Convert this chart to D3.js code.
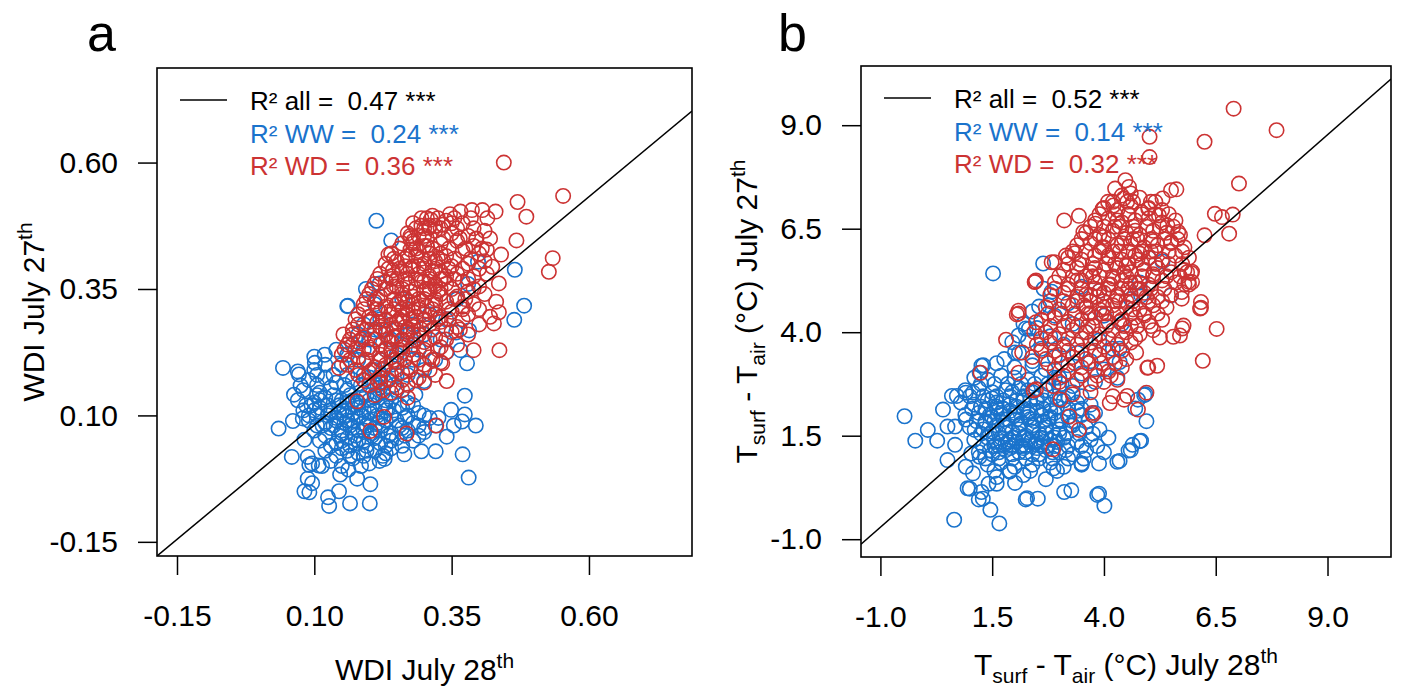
<!DOCTYPE html>
<html>
<head>
<meta charset="utf-8">
<script src="https://cdn.jsdelivr.net/npm/d3@7"></script>
<style>
html,body{margin:0;padding:0;background:#fff;}
svg{display:block;}
text{font-family:"Liberation Sans",Arial,sans-serif;}
</style>
</head>
<body>
<svg id="chart" width="1401" height="690"></svg>
<script>
// ---------- DATA ----------
const ticksA = [-0.15, 0.10, 0.35, 0.60];
const ticksB = [-1.0, 1.5, 4.0, 6.5, 9.0];
const legendA = ["R² all =  0.47 ***", "R² WW =  0.24 ***", "R² WD =  0.36 ***"];
const legendB = ["R² all =  0.52 ***", "R² WW =  0.14 ***", "R² WD =  0.32 ***"];
const fitA = [-0.0096, 0.9035];   // intercept, slope
const fitB = [0.236, 0.948];

// Panel a, WW (blue): [WDI July 28, WDI July 27]
const wwA = [
[0.213,0.485],[0.240,0.446],[0.398,0.404],[0.465,0.388],[0.482,0.317],[0.464,0.289],[0.161,0.317],[0.194,0.350],[0.219,0.361],
[0.043,0.194],[0.070,0.187],[0.100,0.216],[0.119,0.220],[0.035,0.074],[0.061,0.089],[0.063,0.141],[0.075,0.159],[0.059,0.018],
[0.088,0.018],[0.096,0.005],[0.108,0.001],[0.088,-0.025],[0.096,-0.034],[0.082,-0.050],[0.125,-0.062],[0.145,-0.050],[0.165,-0.074],
[0.178,-0.025],[0.202,-0.036],[0.201,-0.074],[0.147,-0.017],[0.219,0.010],[0.228,0.014],[0.264,0.023],[0.295,0.029],[0.321,0.029],
[0.370,0.023],[0.381,-0.023],[0.394,0.080],[0.374,0.139],[0.349,0.111],[0.354,0.080],[0.341,0.058],[0.374,0.102],[0.321,0.080],
[0.300,0.067],[0.378,0.203],[0.366,0.229],[0.358,0.264],[0.382,0.268],[0.341,0.225],[0.300,0.168],[0.284,0.141],
[0.079,0.094],[0.082,0.052],[0.091,0.002],[0.114,0.000],[0.091,-0.052],[0.127,-0.079],[0.162,-0.007],[0.369,0.088],[0.326,0.095],
[0.072,0.181],[0.101,0.204],[0.160,0.316],
[0.09,0.17],[0.12,0.175],[0.14,0.165],[0.17,0.17],[0.20,0.175],[0.23,0.165],
[0.08,0.15],[0.11,0.145],[0.13,0.155],[0.16,0.15],[0.19,0.145],[0.22,0.155],[0.25,0.15],
[0.07,0.13],[0.10,0.125],[0.12,0.135],[0.15,0.13],[0.18,0.125],[0.21,0.135],[0.24,0.13],[0.27,0.125],
[0.08,0.11],[0.11,0.115],[0.13,0.105],[0.16,0.11],[0.18,0.115],[0.20,0.105],[0.23,0.11],[0.26,0.115],[0.29,0.105],
[0.09,0.09],[0.12,0.085],[0.14,0.095],[0.17,0.09],[0.19,0.085],[0.22,0.095],[0.25,0.09],[0.28,0.085],[0.31,0.095],
[0.10,0.07],[0.13,0.075],[0.15,0.065],[0.18,0.07],[0.21,0.075],[0.24,0.065],[0.27,0.07],[0.30,0.075],
[0.11,0.05],[0.14,0.045],[0.16,0.055],[0.19,0.05],[0.22,0.045],[0.25,0.055],[0.28,0.05],
[0.12,0.03],[0.15,0.035],[0.18,0.025],[0.21,0.03],[0.24,0.035],
[0.13,0.01],[0.17,0.015],[0.20,0.005],
[0.135,0.14],[0.165,0.14],[0.195,0.14],[0.215,0.14],[0.125,0.12],[0.145,0.12],[0.175,0.12],[0.205,0.12],[0.225,0.12],
[0.125,0.10],[0.155,0.10],[0.185,0.10],[0.215,0.10],[0.24,0.10],[0.135,0.08],[0.165,0.08],[0.195,0.08],[0.225,0.08],
[0.145,0.06],[0.175,0.06],[0.205,0.06],[0.235,0.06],
[0.15,0.20],[0.18,0.21],[0.21,0.19],[0.24,0.20],[0.27,0.18],[0.30,0.19],[0.32,0.21],[0.17,0.24],[0.20,0.25],[0.23,0.23],
[0.26,0.24],[0.29,0.23],[0.33,0.25],[0.19,0.28],[0.22,0.29],[0.25,0.27],[0.28,0.28],[0.31,0.30],[0.34,0.29],[0.21,0.32],
[0.26,0.33],[0.36,0.33],[0.38,0.36],[0.14,0.23],[0.12,0.20],[0.10,0.19],
[0.105,0.16],[0.155,0.16],[0.185,0.16],[0.215,0.16],[0.245,0.16],[0.085,0.12],[0.095,0.12],[0.255,0.12],[0.28,0.12],
[0.09,0.10],[0.105,0.10],[0.27,0.10],[0.30,0.10],[0.105,0.08],[0.115,0.08],[0.255,0.08],[0.29,0.08],[0.12,0.06],[0.265,0.06],
[0.29,0.06],[0.13,0.04],[0.165,0.04],[0.195,0.04],[0.23,0.04],[0.26,0.04],[0.14,0.02],[0.165,0.02],[0.19,0.02],[0.225,0.02],
[0.15,0.00],[0.185,0.00],[0.105,0.18],[0.135,0.18],[0.16,0.18],[0.19,0.18],[0.22,0.18],[0.25,0.18],
[0.16,0.22],[0.19,0.23],[0.22,0.21],[0.25,0.22],[0.28,0.21],[0.18,0.26],[0.21,0.27],[0.24,0.25],[0.27,0.26],[0.30,0.26],
[0.14,0.13],[0.17,0.13],[0.20,0.13],[0.23,0.13],[0.13,0.11],[0.15,0.11],[0.17,0.105],[0.19,0.11],[0.21,0.11],[0.245,0.11],
[0.14,0.09],[0.16,0.09],[0.18,0.095],[0.20,0.09],[0.23,0.09],[0.15,0.07],[0.17,0.075],[0.19,0.07],[0.22,0.07],[0.26,0.075],
[0.15,0.05],[0.18,0.05],[0.21,0.055],[0.24,0.05],[0.16,0.03],[0.195,0.03],[0.23,0.025],[0.11,0.13],[0.10,0.11],[0.105,0.14],
[0.16,0.125],[0.185,0.135],[0.225,0.145],[0.155,0.085],[0.215,0.085],[0.175,0.045],[0.205,0.065],[0.145,0.105],[0.235,0.115],[0.265,0.095]
];

// Panel a, WD (red)
const wdA = [
[0.445,0.600],[0.553,0.534],[0.470,0.522],[0.486,0.493],[0.468,0.446],[0.534,0.411],[0.527,0.384],[0.430,0.503],[0.406,0.506],
[0.387,0.506],[0.366,0.503],[0.347,0.498],[0.312,0.487],[0.309,0.471],[0.235,0.418],[0.275,0.428],[0.334,0.477],[0.395,0.449],
[0.414,0.428],[0.440,0.418],[0.424,0.394],[0.414,0.380],[0.436,0.361],[0.431,0.325],[0.436,0.304],[0.427,0.282],[0.437,0.229],
[0.390,0.229],[0.243,0.387],[0.153,0.260],[0.145,0.194],[0.178,0.128],[0.227,0.097],[0.202,0.069],[0.268,0.064],[0.322,0.080],
[0.341,0.168],[0.333,0.203],
[0.28,0.48],[0.31,0.475],[0.34,0.485],[0.37,0.48],
[0.27,0.46],[0.29,0.455],[0.32,0.465],[0.35,0.46],[0.38,0.455],[0.41,0.465],
[0.26,0.44],[0.28,0.445],[0.30,0.435],[0.33,0.44],[0.36,0.445],[0.39,0.435],
[0.24,0.42],[0.27,0.415],[0.29,0.425],[0.31,0.42],[0.34,0.415],[0.37,0.425],[0.40,0.42],
[0.23,0.40],[0.25,0.405],[0.28,0.395],[0.30,0.40],[0.32,0.405],[0.35,0.395],[0.38,0.40],[0.41,0.405],
[0.22,0.38],[0.24,0.375],[0.26,0.385],[0.29,0.38],[0.31,0.375],[0.33,0.385],[0.36,0.38],[0.39,0.375],
[0.21,0.36],[0.23,0.365],[0.25,0.355],[0.27,0.36],[0.30,0.365],[0.32,0.355],[0.34,0.36],[0.37,0.365],[0.40,0.355],
[0.20,0.34],[0.22,0.335],[0.24,0.345],[0.26,0.34],[0.28,0.335],[0.31,0.345],[0.33,0.34],[0.36,0.335],[0.38,0.345],[0.41,0.34],
[0.19,0.32],[0.21,0.325],[0.23,0.315],[0.25,0.32],[0.27,0.325],[0.29,0.315],[0.32,0.32],[0.34,0.325],[0.37,0.315],[0.39,0.32],
[0.18,0.30],[0.20,0.295],[0.22,0.305],[0.24,0.30],[0.26,0.295],[0.28,0.305],[0.30,0.30],[0.33,0.295],[0.35,0.305],[0.38,0.30],[0.42,0.295],
[0.18,0.28],[0.20,0.285],[0.22,0.275],[0.24,0.28],[0.26,0.285],[0.28,0.275],[0.31,0.28],[0.33,0.285],[0.36,0.275],[0.40,0.28],
[0.17,0.26],[0.19,0.255],[0.21,0.265],[0.23,0.26],[0.25,0.255],[0.27,0.265],[0.29,0.26],[0.32,0.255],[0.35,0.265],[0.38,0.26],
[0.16,0.24],[0.18,0.245],[0.20,0.235],[0.22,0.24],[0.24,0.245],[0.26,0.235],[0.28,0.24],[0.30,0.245],[0.33,0.235],[0.36,0.24],
[0.15,0.22],[0.18,0.215],[0.20,0.225],[0.22,0.22],[0.24,0.215],[0.26,0.225],[0.28,0.22],[0.31,0.215],[0.34,0.225],
[0.16,0.20],[0.19,0.205],[0.21,0.195],[0.23,0.20],[0.25,0.205],[0.27,0.195],[0.30,0.20],[0.33,0.205],
[0.18,0.18],[0.20,0.185],[0.22,0.175],[0.24,0.18],[0.26,0.185],[0.29,0.175],[0.32,0.18],
[0.20,0.16],[0.22,0.165],[0.25,0.155],[0.27,0.16],[0.30,0.165],
[0.21,0.14],[0.24,0.145],[0.27,0.135],
[0.245,0.255],[0.265,0.275],[0.285,0.295],[0.305,0.315],[0.255,0.325],[0.275,0.345],[0.295,0.365],[0.315,0.385],[0.235,0.305],
[0.265,0.395],[0.285,0.415],[0.305,0.435],[0.325,0.345],[0.335,0.405],[0.215,0.285],[0.245,0.355],[0.275,0.455],[0.295,0.475],
[0.315,0.495],[0.305,0.49],
[0.295,0.49],[0.325,0.49],[0.355,0.49],[0.385,0.49],[0.415,0.49],
[0.285,0.47],[0.30,0.47],[0.33,0.47],[0.36,0.47],[0.39,0.47],
[0.275,0.45],[0.305,0.45],[0.335,0.45],[0.365,0.45],[0.395,0.45],[0.42,0.45],
[0.255,0.43],[0.285,0.43],[0.315,0.43],[0.345,0.43],[0.375,0.43],[0.405,0.43],
[0.245,0.41],[0.265,0.41],[0.295,0.41],[0.325,0.41],[0.355,0.41],[0.385,0.41],
[0.235,0.39],[0.255,0.39],[0.275,0.39],[0.30,0.39],[0.32,0.39],[0.345,0.39],[0.37,0.39],[0.40,0.39],
[0.215,0.37],[0.24,0.37],[0.265,0.37],[0.285,0.37],[0.31,0.37],[0.335,0.37],[0.355,0.37],[0.38,0.37],
[0.205,0.35],[0.23,0.35],[0.26,0.35],[0.285,0.35],[0.305,0.35],[0.33,0.35],[0.35,0.35],[0.39,0.35],
[0.195,0.33],[0.215,0.33],[0.245,0.33],[0.265,0.33],[0.30,0.33],[0.32,0.33],[0.355,0.33],[0.375,0.33],
[0.19,0.31],[0.215,0.31],[0.245,0.31],[0.27,0.31],[0.29,0.31],[0.315,0.31],[0.345,0.31],[0.37,0.31],[0.40,0.31],
[0.175,0.29],[0.205,0.29],[0.23,0.29],[0.255,0.29],[0.275,0.29],[0.30,0.29],[0.325,0.29],[0.345,0.29],[0.37,0.29],
[0.17,0.27],[0.195,0.27],[0.225,0.27],[0.245,0.27],[0.27,0.27],[0.295,0.27],[0.315,0.27],[0.34,0.27],[0.365,0.27],
[0.165,0.25],[0.185,0.25],[0.21,0.25],[0.235,0.25],[0.26,0.25],[0.285,0.25],[0.31,0.25],[0.34,0.25],
[0.155,0.23],[0.175,0.23],[0.205,0.23],[0.23,0.23],[0.255,0.23],[0.275,0.23],[0.30,0.23],[0.325,0.23],
[0.165,0.21],[0.195,0.21],[0.22,0.21],[0.245,0.21],[0.265,0.21],[0.29,0.21],[0.315,0.21],
[0.175,0.19],[0.205,0.19],[0.225,0.19],[0.25,0.19],[0.275,0.19],[0.31,0.19],
[0.19,0.17],[0.215,0.17],[0.235,0.17],[0.26,0.17],[0.285,0.17],
[0.225,0.15],[0.26,0.15],
[0.25,0.37],[0.27,0.38],[0.29,0.395],[0.31,0.41],[0.33,0.42],[0.26,0.31],[0.28,0.32],[0.30,0.345],[0.32,0.36],[0.34,0.375],
[0.23,0.27],[0.25,0.285],[0.27,0.30],[0.29,0.33],[0.31,0.35],[0.33,0.37],[0.28,0.44],[0.30,0.455],[0.32,0.475],[0.35,0.48],
[0.24,0.23],[0.26,0.25],[0.28,0.26],[0.30,0.28],[0.32,0.30]
];

// Panel b, WW (blue): [Tsurf-Tair July 28, Tsurf-Tair July 27]
const wwB = [
[1.52,5.42],[2.64,5.66],[-0.46,1.97],[-0.22,1.38],[0.06,1.64],[0.27,1.38],[0.40,2.13],[0.50,1.72],[0.50,0.91],[0.67,1.28],
[0.71,2.46],[0.91,2.54],[1.07,2.54],[0.60,2.46],[1.00,0.22],[1.26,0.14],[1.29,-0.02],[1.46,-0.29],[1.42,0.34],[1.60,0.34],
[1.89,0.63],[2.01,0.36],[2.28,-0.01],[2.52,-0.02],[2.87,0.71],[3.11,0.14],[3.27,0.18],[3.89,0.10],[4.01,-0.19],[3.50,0.83],
[3.89,0.83],[4.35,0.89],[4.60,1.15],[4.83,1.38],[4.64,1.28],[4.95,1.85],[4.93,2.50],[4.76,2.37],[1.26,3.19],[1.22,3.02],
[2.83,4.98],[2.76,4.65],[2.09,3.92],[2.01,3.51],[1.77,3.35],[2.32,4.08],[5.31,5.71],[5.50,4.89],[4.83,4.89],[0.65,-0.53],
[1.66,-0.62],[0.67,1.72],[0.91,1.89],[1.11,1.64],[1.03,1.07],[0.91,0.75],[1.07,0.59],[1.22,0.99],[4.35,3.28],[4.35,3.60],
[0.95,0.23],[1.20,-0.04],[2.25,-0.04],[3.85,0.07],[3.50,0.82],[4.30,0.87],[4.55,1.14],[4.80,1.37],[4.90,2.48],[4.70,2.16],
[1.95,3.76],[2.25,4.09],[2.55,4.62],[2.65,5.05],
[1.3,3.2],[1.6,3.25],[2.0,3.15],[2.4,3.2],
[1.1,2.9],[1.4,2.85],[1.7,2.95],[2.0,2.9],[2.3,2.85],[2.6,2.95],[2.9,2.9],
[0.9,2.6],[1.2,2.65],[1.5,2.55],[1.8,2.6],[2.1,2.65],[2.4,2.55],[2.7,2.6],[3.0,2.65],[3.3,2.55],
[0.8,2.3],[1.1,2.25],[1.4,2.35],[1.6,2.3],[1.9,2.25],[2.2,2.35],[2.5,2.3],[2.8,2.25],[3.1,2.35],[3.4,2.3],[3.7,2.25],
[0.9,2.0],[1.2,2.05],[1.5,1.95],[1.7,2.0],[2.0,2.05],[2.3,1.95],[2.6,2.0],[2.9,2.05],[3.2,1.95],[3.5,2.0],[3.8,2.05],
[1.0,1.7],[1.3,1.65],[1.6,1.75],[1.8,1.7],[2.1,1.65],[2.4,1.75],[2.7,1.7],[3.0,1.65],[3.3,1.75],[3.6,1.7],[3.9,1.65],
[1.1,1.4],[1.4,1.45],[1.7,1.35],[1.9,1.4],[2.2,1.45],[2.5,1.35],[2.8,1.4],[3.1,1.45],[3.4,1.35],[3.7,1.4],[4.1,1.45],
[1.2,1.1],[1.5,1.05],[1.8,1.15],[2.1,1.1],[2.4,1.05],[2.7,1.15],[3.0,1.1],[3.3,1.05],[3.6,1.15],[4.0,1.1],
[1.4,0.8],[1.7,0.85],[2.0,0.75],[2.4,0.8],[2.8,0.85],[3.1,0.75],[3.5,0.8],
[1.6,0.5],[2.2,0.55],[2.7,0.45],
[1.55,1.25],[1.85,1.35],[2.15,1.25],[2.45,1.3],[2.75,1.25],[1.65,1.55],[1.95,1.6],[2.25,1.5],[2.55,1.55],[2.85,1.6],
[1.55,1.85],[1.85,1.9],[2.15,1.8],[2.45,1.85],[2.75,1.9],[1.75,2.15],[2.05,2.2],[2.35,2.1],[2.65,2.15],[2.95,2.2],
[2.2,2.45],[2.5,2.4],[1.9,2.45],
[2.1,3.5],[2.4,3.3],[2.7,3.1],[3.0,2.9],[3.3,2.7],[2.3,3.8],[2.6,3.6],[2.9,3.4],[3.2,3.2],[3.5,3.0],[3.8,2.8],[2.5,4.1],
[2.8,3.9],[3.1,3.7],[3.4,3.5],[3.7,3.3],[4.0,3.1],[4.3,2.9],[2.9,4.4],[3.3,4.2],[3.6,4.0],[3.9,3.8],[4.2,3.6],[3.2,4.7],
[3.6,4.6],[4.0,4.4],[4.4,4.2],[3.5,5.1],[3.9,5.0],[4.6,4.8],[4.8,5.2],[5.0,5.8],[2.4,4.5],[2.2,4.2],
[1.25,2.75],[1.55,2.75],[1.85,2.75],[2.15,2.75],[2.45,2.75],[2.75,2.75],[3.05,2.75],
[1.0,2.45],[1.3,2.45],[1.6,2.45],[2.9,2.45],[3.2,2.45],[3.5,2.45],
[1.05,2.15],[1.35,2.15],[1.6,2.15],[3.2,2.15],[3.5,2.15],
[1.15,1.85],[1.35,1.85],[3.05,1.85],[3.35,1.85],[3.65,1.85],
[1.25,1.55],[1.45,1.55],[3.15,1.55],[3.45,1.55],[3.75,1.55],
[1.3,1.25],[1.65,1.25],[1.95,1.25],[2.25,1.25],[2.6,1.25],[2.9,1.25],[3.2,1.25],[3.5,1.25],[3.85,1.25],
[1.35,0.95],[1.65,0.95],[1.95,0.95],[2.25,0.95],[2.55,0.95],[2.85,0.95],[3.2,0.95],[3.55,0.95],
[1.55,0.65],[1.9,0.65],[2.35,0.65],[2.95,0.65],
[1.7,1.45],[2.0,1.45],[2.3,1.4],[2.6,1.45],[1.8,1.75],[2.1,1.75],[2.4,1.7],[2.7,1.75],[1.7,2.05],[2.0,2.0],
[2.3,2.05],[2.6,2.0],[2.2,1.2],[2.5,1.2],[1.9,1.2],[2.8,1.95],[2.9,1.45],
[1.45,2.0],[1.75,1.9],[2.05,1.9],[2.35,1.9],[2.65,1.85],[2.95,1.85],[1.5,1.6],[1.8,1.55],[2.1,1.55],[2.4,1.6],[2.7,1.55],[3.0,1.55],
[1.55,1.35],[1.8,1.3],[2.05,1.35],[2.35,1.35],[2.65,1.35],[2.95,1.35],[1.65,1.1],[1.95,1.05],[2.25,1.1],[2.55,1.05],[2.85,1.1],
[1.6,2.2],[1.9,2.1],[2.2,2.15],[2.5,2.1],[2.8,2.1],[1.75,2.35],[2.05,2.35],[2.35,2.35],[2.65,2.35],[3.0,2.4],
[1.35,1.8],[1.25,2.2],[1.45,1.15],[3.15,1.15],[3.25,1.75],[3.4,2.1],[1.5,2.4],[1.95,2.55],[2.3,2.6],[2.6,2.5]
];

// Panel b, WD (red)
const wdB = [
[6.90,9.40],[7.86,8.88],[6.25,8.60],[5.02,8.72],[5.02,8.23],[7.02,7.59],[5.62,7.45],[5.50,7.43],[4.48,7.67],[4.56,7.51],
[4.60,7.35],[4.52,7.15],[5.31,7.23],[5.15,7.15],[4.09,7.15],[3.97,6.98],[4.21,7.06],[3.11,6.70],[3.44,6.81],[3.54,6.42],
[3.81,6.62],[4.84,6.90],[4.99,6.98],[5.42,6.58],[5.66,6.42],[5.50,6.18],[6.48,6.86],[6.64,6.78],[6.88,6.84],[6.25,6.34],
[6.80,6.38],[2.83,5.69],[2.48,5.25],[2.09,4.52],[4.25,7.47],[4.44,7.23],[5.23,6.82],[5.86,5.45],[5.97,5.21],[5.74,4.97],
[6.17,4.73],[2.09,4.45],[2.46,5.22],[1.81,3.82],[1.24,3.02],[2.48,4.24],[2.44,4.00],[2.17,3.51],[2.09,3.02],[2.48,2.62],
[2.86,1.17],[3.23,1.97],[3.44,1.64],[3.74,2.05],[4.13,2.29],[4.52,2.46],[4.76,2.13],[4.95,2.54],[3.03,2.37],[2.87,2.70],
[6.17,4.59],[6.52,4.08],[6.21,3.31],[5.97,5.46],[5.89,5.22],[5.74,4.81],[5.78,4.16],[5.70,3.92],[5.19,3.19],[4.99,3.15],
[4.72,3.51],[5.95,5.43],[5.80,5.16],[6.15,4.57],[5.75,4.09],[5.55,3.89],[5.25,3.87],[4.97,3.14],[4.45,2.37],[3.75,2.00],
[2.43,2.59],[2.05,4.43],[2.45,5.21],[2.90,5.69],[3.15,5.85],[3.35,5.91],
[4.4,7.3],[4.8,7.25],
[4.0,7.0],[4.3,6.95],[4.6,7.05],[5.0,7.0],[5.3,6.95],
[3.8,6.7],[4.1,6.75],[4.4,6.65],[4.7,6.7],[5.0,6.75],[5.3,6.65],[5.6,6.7],
[3.6,6.4],[3.9,6.35],[4.2,6.45],[4.5,6.4],[4.8,6.35],[5.1,6.45],[5.4,6.4],[5.7,6.35],
[3.4,6.1],[3.7,6.15],[4.0,6.05],[4.3,6.1],[4.6,6.15],[4.9,6.05],[5.2,6.1],[5.5,6.15],[5.8,6.05],
[3.2,5.8],[3.5,5.75],[3.8,5.85],[4.1,5.8],[4.4,5.75],[4.7,5.85],[5.0,5.8],[5.3,5.75],[5.6,5.85],[5.9,5.8],
[3.1,5.5],[3.4,5.55],[3.7,5.45],[4.0,5.5],[4.3,5.55],[4.6,5.45],[4.9,5.5],[5.2,5.55],[5.5,5.45],[5.8,5.5],
[2.9,5.2],[3.2,5.15],[3.5,5.25],[3.8,5.2],[4.1,5.15],[4.4,5.25],[4.7,5.2],[5.0,5.15],[5.3,5.25],[5.6,5.2],[5.9,5.15],
[2.8,4.9],[3.1,4.95],[3.4,4.85],[3.7,4.9],[4.0,4.95],[4.3,4.85],[4.6,4.9],[4.9,4.95],[5.2,4.85],[5.5,4.9],
[2.7,4.6],[3.0,4.55],[3.3,4.65],[3.6,4.6],[3.9,4.55],[4.2,4.65],[4.5,4.6],[4.8,4.55],[5.1,4.65],[5.4,4.6],
[2.6,4.3],[2.9,4.35],[3.2,4.25],[3.5,4.3],[3.8,4.35],[4.1,4.25],[4.4,4.3],[4.7,4.35],[5.0,4.25],[5.3,4.3],
[2.7,4.0],[3.0,3.95],[3.3,4.05],[3.6,4.0],[3.9,3.95],[4.2,4.05],[4.5,4.0],[4.8,3.95],[5.1,4.05],
[2.5,3.7],[2.8,3.75],[3.1,3.65],[3.4,3.7],[3.7,3.75],[4.0,3.65],[4.3,3.7],[4.6,3.75],
[2.4,3.4],[2.7,3.35],[3.0,3.45],[3.3,3.4],[3.6,3.35],[3.9,3.45],[4.2,3.4],[4.5,3.35],
[2.9,3.1],[3.2,3.05],[3.5,3.15],[3.8,3.1],[4.1,3.05],[4.4,3.15],
[3.0,2.8],[3.4,2.85],[3.7,2.75],[4.0,2.8],[4.3,2.85],
[3.3,2.5],[3.7,2.55],[4.2,2.45],
[3.65,4.15],[3.95,4.45],[4.25,4.75],[4.55,5.05],[4.85,5.35],[3.85,4.85],[4.15,5.15],[4.45,5.45],[4.75,5.75],[3.75,5.35],
[4.05,5.65],[4.35,5.95],[4.65,6.25],[4.35,4.25],[4.65,4.55],[4.95,4.85],[3.55,4.65],[4.25,6.55],[4.55,6.85],[3.95,6.05],
[4.2,7.15],[4.65,7.15],[5.05,7.15],
[3.9,6.85],[4.25,6.85],[4.55,6.85],[4.85,6.85],[5.15,6.85],[5.45,6.85],
[3.7,6.55],[4.0,6.55],[4.35,6.55],[4.65,6.55],[4.95,6.55],[5.25,6.55],[5.55,6.55],
[3.5,6.25],[3.8,6.25],[4.1,6.25],[4.45,6.25],[4.75,6.25],[5.05,6.25],[5.35,6.25],[5.65,6.25],
[3.3,5.95],[3.6,5.95],[3.9,5.95],[4.2,5.95],[4.55,5.95],[4.85,5.95],[5.15,5.95],[5.45,5.95],[5.75,5.95],
[3.2,5.65],[3.45,5.65],[3.75,5.65],[4.25,5.65],[4.55,5.65],[4.85,5.65],[5.15,5.65],[5.45,5.65],[5.75,5.65],
[3.0,5.35],[3.3,5.35],[3.6,5.35],[3.9,5.35],[4.2,5.35],[4.5,5.35],[5.1,5.35],[5.4,5.35],[5.7,5.35],
[2.9,5.05],[3.2,5.05],[3.5,5.05],[3.8,5.05],[4.1,5.05],[4.4,5.05],[4.75,5.05],[5.05,5.05],[5.35,5.05],
[2.8,4.75],[3.1,4.75],[3.4,4.75],[3.7,4.75],[4.0,4.75],[4.35,4.75],[4.65,4.75],[5.0,4.75],[5.3,4.75],
[2.75,4.45],[3.05,4.45],[3.35,4.45],[3.65,4.45],[4.05,4.45],[4.3,4.45],[4.6,4.45],[4.9,4.45],[5.2,4.45],
[2.8,4.15],[3.1,4.15],[3.4,4.15],[3.75,4.15],[4.05,4.15],[4.45,4.15],[4.75,4.15],[5.05,4.15],
[2.6,3.85],[2.9,3.85],[3.2,3.85],[3.5,3.85],[3.8,3.85],[4.1,3.85],[4.4,3.85],[4.7,3.85],
[2.6,3.55],[2.9,3.55],[3.2,3.55],[3.5,3.55],[3.8,3.55],[4.1,3.55],[4.4,3.55],
[2.75,3.25],[3.05,3.25],[3.35,3.25],[3.65,3.25],[3.95,3.25],[4.25,3.25],
[3.1,2.95],[3.5,2.95],[3.85,2.95],[4.15,2.95],
[3.7,4.45],[4.0,4.6],[4.3,4.9],[4.6,5.2],[4.9,5.5],[3.9,5.0],[4.2,5.3],[4.5,5.6],[4.8,5.9],[5.1,6.2],[3.8,5.55],[4.1,5.85],
[4.4,6.15],[4.7,6.45],[4.5,4.75],[4.8,5.05],[5.1,5.4],[3.6,4.9],[4.0,6.3],[4.3,6.7],[3.4,5.25],[5.05,5.95],[4.6,4.15],[4.9,4.4]
];

// ---------- DRAWING ----------
const svg = d3.select("#chart");
const BLUE = "#1a73cc", RED = "#cc3333";
const FONT = "'Liberation Sans', Arial, sans-serif";

const panels = [
  { letter: "a", letterX: 87, ww: wwA, wd: wdA, ticks: ticksA, fmt: d => d.toFixed(2), fit: fitA, legend: legendA,
    x: d3.scaleLinear().domain([-0.1864, 0.7876]).range([157, 692]),
    y: d3.scaleLinear().domain([-0.178, 0.787]).range([556, 68]),
    xTitle: [["WDI July 28", 0], ["th", -1]], yTitle: [["WDI July 27", 0], ["th", -1]], yTitleX: 44, xTitleY: 680 },
  { letter: "b", letterX: 778, ww: wwB, wd: wdB, ticks: ticksB, fmt: d => d.toFixed(1), fit: fitB, legend: legendB,
    x: d3.scaleLinear().domain([-1.434, 10.42]).range([861, 1391]),
    y: d3.scaleLinear().domain([-1.43, 10.43]).range([557, 66]),
    xTitle: [["T", 0], ["surf", 1], [" - T", 0], ["air", 1], [" (°C) July 28", 0], ["th", -1]],
    yTitle: [["T", 0], ["surf", 1], [" - T", 0], ["air", 1], [" (°C) July 27", 0], ["th", -1]], yTitleX: 757, xTitleY: 675 }
];

function addRich(textSel, parts) {
  let cur = 0;
  parts.forEach(([s, kind]) => {
    const target = kind === 0 ? 0 : (kind === 1 ? 8 : -12);
    textSel.append("tspan")
      .attr("dy", target - cur)
      .attr("font-size", kind === 0 ? 30 : 21)
      .text(s);
    cur = target;
  });
}

panels.forEach(p => {
  const g = svg.append("g");
  const [x0, x1] = p.x.range(), [y0, y1] = p.y.range();

  g.append("text").attr("x", p.letterX).attr("y", 51)
    .attr("font-family", "'Open Sans', 'Noto Sans', sans-serif").attr("font-size", 52).text(p.letter);

  const clipId = "clip-" + p.letter;
  g.append("clipPath").attr("id", clipId).append("rect")
    .attr("x", x0).attr("y", y1).attr("width", x1 - x0).attr("height", y0 - y1);

  const pts = g.append("g").attr("clip-path", `url(#${clipId})`);
  pts.selectAll("circle.ww").data(p.ww).join("circle").attr("class", "ww")
    .attr("cx", d => p.x(d[0])).attr("cy", d => p.y(d[1])).attr("r", 7.2)
    .attr("fill", "none").attr("stroke", BLUE).attr("stroke-width", 1.6);
  pts.selectAll("circle.wd").data(p.wd).join("circle").attr("class", "wd")
    .attr("cx", d => p.x(d[0])).attr("cy", d => p.y(d[1])).attr("r", 7.2)
    .attr("fill", "none").attr("stroke", RED).attr("stroke-width", 1.6);

  const dom = p.x.domain();
  const line = d3.line().x(d => p.x(d)).y(d => p.y(p.fit[0] + p.fit[1] * d));
  pts.append("path").attr("d", line(dom)).attr("fill", "none").attr("stroke", "#000").attr("stroke-width", 1.5);

  const ax = g.append("g").attr("transform", `translate(0,${y0})`)
    .call(d3.axisBottom(p.x).tickValues(p.ticks).tickFormat(p.fmt).tickSize(19).tickPadding(30));
  const ay = g.append("g").attr("transform", `translate(${x0},0)`)
    .call(d3.axisLeft(p.y).tickValues(p.ticks).tickFormat(p.fmt).tickSize(19).tickPadding(20));
  [ax, ay].forEach(a => {
    a.select(".domain").remove();
    a.selectAll("line").attr("stroke", "#000").attr("stroke-width", 1.5);
    a.selectAll("text").attr("font-family", FONT).attr("font-size", 30).attr("fill", "#000");
  });

  g.append("rect").attr("x", x0).attr("y", y1).attr("width", x1 - x0).attr("height", y0 - y1)
    .attr("fill", "none").attr("stroke", "#000").attr("stroke-width", 1.6);

  const xt = g.append("text").attr("x", (x0 + x1) / 2).attr("y", p.xTitleY)
    .attr("text-anchor", "middle").attr("font-family", FONT).attr("font-size", 30);
  addRich(xt, p.xTitle);
  const yt = g.append("text").attr("transform", `translate(${p.yTitleX},${(y0 + y1) / 2}) rotate(-90)`)
    .attr("text-anchor", "middle").attr("font-family", FONT).attr("font-size", 30);
  addRich(yt, p.yTitle);

  const lx = x0 + 23, tx = x0 + 93, by = y1 + 42;
  g.append("line").attr("x1", lx).attr("x2", lx + 47).attr("y1", by - 10).attr("y2", by - 10)
    .attr("stroke", "#000").attr("stroke-width", 1.5);
  const cols = ["#000", BLUE, RED];
  p.legend.forEach((s, i) => {
    g.append("text").attr("x", tx).attr("y", by + i * 32.6)
      .attr("font-family", FONT).attr("font-size", 26).attr("fill", cols[i])
      .style("white-space", "pre").attr("xml:space", "preserve").text(s);
  });
});
</script>
</body>
</html>
